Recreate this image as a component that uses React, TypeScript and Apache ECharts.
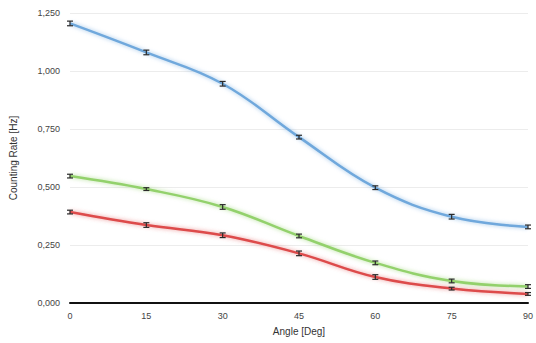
import React, { useEffect, useRef } from "react";
import * as echarts from "echarts";

const angles = [0, 15, 30, 45, 60, 75, 90];
const blueRate = [1.205, 1.08, 0.945, 0.715, 0.497, 0.372, 0.328];
const blueErr = [0.01, 0.01, 0.01, 0.008, 0.008, 0.01, 0.008];
const greenRate = [0.547, 0.491, 0.414, 0.289, 0.173, 0.095, 0.071];
const greenErr = [0.008, 0.006, 0.01, 0.008, 0.008, 0.008, 0.008];
const redRate = [0.392, 0.336, 0.292, 0.214, 0.112, 0.062, 0.039];
const redErr = [0.008, 0.01, 0.01, 0.01, 0.01, 0.006, 0.006];

const fmt = (v: number) => v.toFixed(3).replace(".", ",");

function errSeries(rate: number[], err: number[]) {
  return {
    type: "custom",
    z: 5,
    data: angles.map((a, i) => [a, rate[i] - err[i], rate[i] + err[i]]),
    renderItem: (params: any, api: any) => {
      const x = api.value(0);
      const lo = api.coord([x, api.value(1)]);
      const hi = api.coord([x, api.value(2)]);
      const w = 3;
      const style = { stroke: "#2a2a2a", lineWidth: 1.2 };
      return {
        type: "group",
        children: [
          { type: "line", shape: { x1: lo[0], y1: lo[1], x2: hi[0], y2: hi[1] }, style },
          { type: "line", shape: { x1: lo[0] - w, y1: lo[1], x2: lo[0] + w, y2: lo[1] }, style },
          { type: "line", shape: { x1: hi[0] - w, y1: hi[1], x2: hi[0] + w, y2: hi[1] }, style },
        ],
      };
    },
  };
}

function lineSeries(rate: number[], color: string, glow: string) {
  return {
    type: "line",
    smooth: 0.4,
    symbol: "none",
    z: 3,
    data: angles.map((a, i) => [a, rate[i]]),
    lineStyle: { color, width: 2.5, shadowColor: glow, shadowBlur: 4 },
  };
}

export default function App() {
  const ref = useRef<HTMLDivElement>(null);
  useEffect(() => {
    const chart = echarts.init(ref.current!, null, { renderer: "svg" });
    chart.setOption({
      animation: false,
      backgroundColor: "#ffffff",
      textStyle: { fontFamily: "Liberation Sans, Arial, sans-serif" },
      grid: { left: 66, right: 6, top: 13, bottom: 40 },
      xAxis: {
        type: "value",
        min: 0,
        max: 90,
        interval: 15,
        name: "Angle [Deg]",
        nameLocation: "middle",
        nameGap: 23,
        nameTextStyle: { color: "#333", fontSize: 10 },
        axisLine: { show: true, lineStyle: { color: "#111", width: 2 } },
        axisTick: { show: false },
        splitLine: { show: false },
        axisLabel: { color: "#444", fontSize: 9, margin: 8 },
      },
      yAxis: {
        type: "value",
        min: 0,
        max: 1.25,
        interval: 0.25,
        name: "Counting Rate [Hz]",
        nameLocation: "middle",
        nameGap: 52,
        nameTextStyle: { color: "#333", fontSize: 10 },
        axisLine: { show: false },
        axisTick: { show: false },
        splitLine: { lineStyle: { color: "#ececec", width: 1 } },
        axisLabel: { color: "#444", fontSize: 9, margin: 10, formatter: (v: number) => fmt(v) },
      },
      series: [
        lineSeries(blueRate, "#6fa8dc", "rgba(111,168,220,0.7)"),
        lineSeries(greenRate, "#93d16c", "rgba(147,209,108,0.7)"),
        lineSeries(redRate, "#dd4b4b", "rgba(221,75,75,0.6)"),
        errSeries(blueRate, blueErr),
        errSeries(greenRate, greenErr),
        errSeries(redRate, redErr),
      ],
    });
    return () => chart.dispose();
  }, []);
  return (
    <div
      ref={ref}
      style={{ position: "fixed", left: 0, top: 0, width: 536, height: 343 }}
    />
  );
}
